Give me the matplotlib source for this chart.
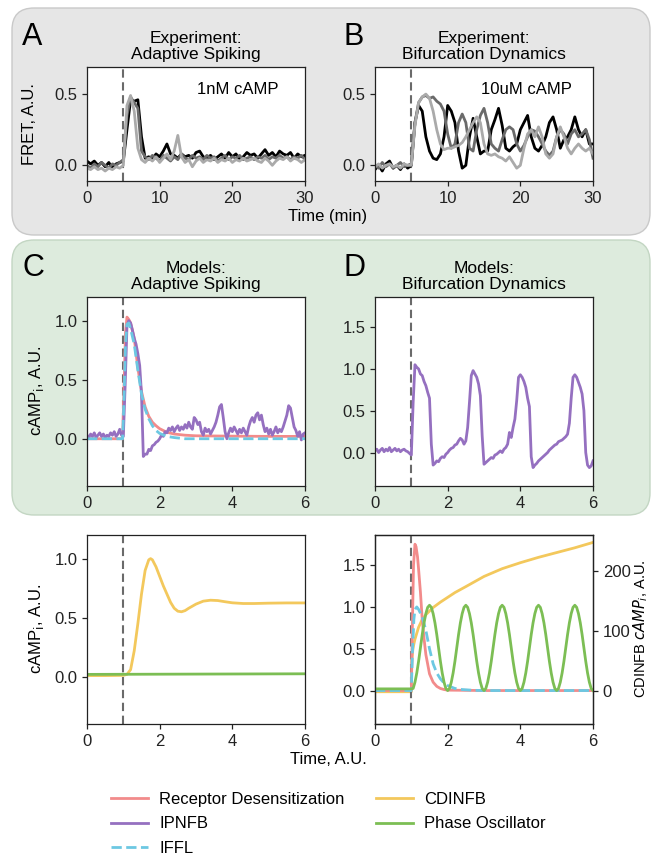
import matplotlib
matplotlib.use('Agg')
import matplotlib.pyplot as plt
import numpy as np
from matplotlib.patches import FancyBboxPatch
from matplotlib.lines import Line2D

plt.rcParams['font.family'] = ['Liberation Sans', 'DejaVu Sans']

# ---------------- data ----------------
# experiments, time in min (0.5 min steps)
t_exp = np.linspace(0, 30, 61)
a_black = [0.03, 0.01, 0.03, 0.0, 0.02, -0.01, 0.02, -0.02, 0.01, 0.02, 0.03, 0.25, 0.46, 0.45, 0.46, 0.2,
           0.05, 0.06, 0.04, 0.08, 0.06, 0.1, 0.15, 0.08, 0.07, 0.05, 0.08, 0.06, 0.07, 0.05, 0.09, 0.1,
           0.06, 0.05, 0.07, 0.04, 0.06, 0.08, 0.05, 0.09, 0.06, 0.08, 0.04, 0.06, 0.09, 0.07, 0.08, 0.05,
           0.08, 0.11, 0.07, 0.09, 0.06, 0.1, 0.08, 0.07, 0.09, 0.05, 0.08, 0.06, 0.07]
a_dark = [0.0, -0.02, 0.01, -0.01, 0.02, 0.0, -0.02, 0.01, 0.0, 0.02, 0.04, 0.35, 0.48, 0.44, 0.4, 0.1,
          0.06, 0.04, 0.07, 0.05, 0.03, 0.07, 0.05, 0.03, 0.06, 0.04, 0.08, 0.05, 0.04, 0.07, 0.05, 0.06,
          0.04, 0.07, 0.05, 0.06, 0.03, 0.05, 0.07, 0.04, 0.06, 0.05, 0.07, 0.04, 0.05, 0.06, 0.04, 0.06,
          0.05, 0.07, 0.04, 0.06, 0.05, 0.07, 0.05, 0.06, 0.04, 0.06, 0.05, 0.07, 0.04]
a_light = [-0.02, -0.03, -0.01, -0.03, -0.02, -0.04, -0.02, -0.03, -0.01, -0.02, 0.0, 0.42, 0.49, 0.38,
           0.12, 0.04, 0.02, 0.05, 0.03, 0.06, 0.02, 0.05, 0.08, 0.04, 0.1, 0.21, 0.06, 0.02, 0.04, -0.01,
           0.03, 0.05, 0.02, 0.04, 0.03, 0.05, 0.02, 0.04, 0.03, 0.05, 0.02, 0.04, 0.03, 0.05, 0.03, 0.04,
           0.05, 0.03, 0.02, 0.05, 0.03, 0.0, 0.03, 0.05, 0.04, 0.06, 0.03, 0.05, 0.04, 0.02, 0.04]
b_black = [-0.03, 0.0, -0.04, 0.01, 0.03, -0.02, 0.0, -0.03, 0.01, -0.02, 0.0, 0.3, 0.42, 0.38, 0.2, 0.1,
           0.05, 0.04, 0.08, 0.2, 0.42, 0.38, 0.3, 0.1, -0.02, 0.0, 0.2, 0.33, 0.2, 0.08, 0.1, 0.1, 0.25,
           0.32, 0.4, 0.28, 0.12, 0.1, 0.13, 0.15, 0.25, 0.3, 0.35, 0.2, 0.12, 0.1, 0.14, 0.2, 0.3, 0.34,
           0.25, 0.12, 0.18, 0.2, 0.25, 0.34, 0.25, 0.2, 0.25, 0.15, 0.15]
b_dark = [0.0, -0.02, 0.02, -0.01, 0.01, -0.02, 0.0, 0.02, -0.01, 0.0, 0.01, 0.3, 0.44, 0.48, 0.49, 0.47,
          0.48, 0.45, 0.43, 0.38, 0.22, 0.12, 0.15, 0.3, 0.36, 0.3, 0.12, 0.1, 0.25, 0.35, 0.4, 0.3, 0.15,
          0.12, 0.1, 0.18, 0.25, 0.27, 0.25, 0.15, 0.1, 0.14, 0.2, 0.25, 0.24, 0.2, 0.15, 0.1, 0.07, 0.1,
          0.2, 0.25, 0.22, 0.15, 0.22, 0.25, 0.2, 0.22, 0.25, 0.18, 0.05]
b_light = [-0.01, 0.01, -0.02, 0.0, 0.01, -0.01, 0.0, -0.02, 0.01, 0.0, 0.0, 0.28, 0.44, 0.48, 0.5, 0.47,
           0.38, 0.25, 0.15, 0.11, 0.12, 0.12, 0.13, 0.14, 0.16, 0.2, 0.25, 0.3, 0.34, 0.3, 0.15, 0.08,
           0.07, 0.08, 0.06, 0.05, 0.03, 0.06, 0.02, -0.02, 0.0, 0.12, 0.22, 0.25, 0.2, 0.27, 0.2, 0.08,
           0.05, 0.08, 0.2, 0.27, 0.2, 0.12, 0.08, 0.12, 0.15, 0.12, 0.1, 0.12, 0.08]

# models, panel C
t_c_rd = [0, 0.5, 0.98, 1.02, 1.06, 1.1, 1.15, 1.2, 1.3, 1.4, 1.5, 1.6, 1.7, 1.8, 1.9, 2.0, 2.2, 2.4,
          2.7, 3.0, 4.0, 5.0, 6.0]
c_rd = [0.0, 0.0, 0.0, 0.45, 0.9, 1.03, 1.01, 0.98, 0.85, 0.6, 0.4, 0.27, 0.19, 0.14, 0.11, 0.085,
        0.055, 0.04, 0.03, 0.025, 0.022, 0.02, 0.02]
t_c_iffl = [0, 0.98, 1.02, 1.06, 1.1, 1.15, 1.2, 1.3, 1.4, 1.5, 1.6, 1.7, 1.8, 1.9, 2.0, 2.2, 2.4, 2.7,
            3.0, 6.0]
c_iffl = [0.0, 0.0, 0.35, 0.8, 0.97, 0.98, 0.93, 0.8, 0.58, 0.38, 0.25, 0.17, 0.11, 0.07, 0.045, 0.02,
          0.01, 0.0, 0.0, 0.0]
t_ipnfb = np.linspace(0, 6, 121)
c_ipnfb = [0.03, 0.01, 0.04, 0.02, 0.05, 0.01, 0.03, 0.05, 0.02, 0.04, 0.01, 0.03, 0.02, 0.05, 0.03,
           0.06, 0.02, 0.04, 0.08, 0.03, 0.02, 0.45, 0.95, 1.0, 0.98, 0.92, 0.85, 0.8, 0.72, 0.62, 0.38,
           -0.15, -0.13, -0.13, -0.09, -0.1, -0.06, -0.05, -0.03, -0.02, 0.0, 0.03, 0.02, 0.06, 0.05,
           0.09, 0.07, 0.1, 0.06, 0.09, 0.11, 0.07, 0.1, 0.08, 0.12, 0.09, 0.14, 0.1, 0.08, 0.18, 0.16,
           0.12, 0.14, 0.06, 0.03, 0.09, 0.06, 0.08, 0.04, 0.07, 0.1, 0.14, 0.2, 0.27, 0.29, 0.18, 0.06,
           0.0, 0.05, 0.09, 0.06, 0.1, 0.07, 0.04, 0.08, 0.05, 0.09, 0.06, 0.03, 0.1, 0.15, 0.18, 0.14,
           0.2, 0.22, 0.16, 0.2, 0.12, 0.06, 0.09, 0.04, 0.08, 0.03, 0.06, 0.1, 0.05, 0.08, 0.06, 0.1,
           0.15, 0.2, 0.28, 0.26, 0.18, 0.1, 0.07, 0.02, 0.06, -0.01, 0.04, 0.05]

# models, panel D
d_ipnfb = [0.02, 0.04, 0.0, 0.03, 0.05, 0.01, 0.04, 0.02, 0.06, 0.01, 0.03, 0.05, 0.02, 0.04, 0.01,
           0.03, 0.04, 0.02, 0.01, -0.01, -0.03, 0.6, 1.05, 1.02, 1.0, 0.94, 0.92, 0.85, 0.8, 0.72, 0.65,
           0.1, -0.15, -0.13, -0.1, -0.11, -0.07, -0.05, -0.06, -0.02, 0.0, 0.03, 0.05, 0.06, 0.09, 0.1,
           0.14, 0.17, 0.15, 0.1, 0.14, 0.3, 0.6, 0.92, 0.98, 0.94, 0.9, 0.82, 0.68, 0.2, -0.14, -0.12,
           -0.1, -0.08, -0.06, -0.07, -0.03, -0.02, 0.0, 0.02, 0.0, 0.04, 0.06, 0.1, 0.24, 0.18, 0.3, 0.4,
           0.62, 0.9, 0.93, 0.9, 0.85, 0.78, 0.65, 0.55, -0.05, -0.18, -0.15, -0.13, -0.1, -0.08, -0.06,
           -0.04, -0.02, 0.0, 0.03, 0.05, 0.07, 0.09, 0.1, 0.13, 0.14, 0.15, 0.17, 0.19, 0.22, 0.35, 0.65,
           0.9, 0.93, 0.9, 0.84, 0.78, 0.7, 0.5, 0.0, -0.15, -0.18, -0.16, -0.1]

# bottom left: CDINFB and phase oscillator at the low dose
t_bl_cd = [0, 0.5, 1.0, 1.1, 1.2, 1.3, 1.4, 1.5, 1.6, 1.7, 1.75, 1.8, 1.9, 2.0, 2.1, 2.2, 2.3, 2.4,
           2.5, 2.6, 2.7, 2.8, 3.0, 3.2, 3.4, 3.6, 3.8, 4.0, 4.3, 4.6, 5.0, 5.5, 6.0]
bl_cd = [0.01, 0.01, 0.012, 0.02, 0.06, 0.22, 0.45, 0.7, 0.9, 0.99, 1.0, 0.99, 0.93, 0.85, 0.77, 0.7,
         0.63, 0.58, 0.555, 0.55, 0.56, 0.58, 0.615, 0.64, 0.648, 0.645, 0.635, 0.626, 0.62, 0.62,
         0.623, 0.625, 0.625]
t_bl_po = [0, 6.0]
bl_po = [0.02, 0.025]

# bottom right: all models at the high dose
t_br_rd = [0, 0.98, 1.0, 1.03, 1.06, 1.1, 1.13, 1.17, 1.2, 1.25, 1.3, 1.35, 1.4, 1.5, 1.6, 1.7, 1.8,
           1.9, 2.0, 3.0, 4.0, 5.0, 6.0]
br_rd = [0.0, 0.0, 0.0, 0.8, 1.5, 1.75, 1.72, 1.6, 1.45, 1.18, 0.85, 0.62, 0.43, 0.2, 0.1, 0.05,
         0.025, 0.012, 0.005, 0.0, 0.0, 0.0, 0.0]
t_br_iffl = [0, 1.0, 1.03, 1.07, 1.1, 1.15, 1.2, 1.3, 1.4, 1.5, 1.6, 1.7, 1.8, 1.9, 2.0, 2.2, 2.4, 2.7,
             3.0, 6.0]
br_iffl = [0.0, 0.0, 0.45, 0.85, 0.97, 1.0, 0.97, 0.88, 0.72, 0.5, 0.32, 0.21, 0.14, 0.09, 0.06, 0.025,
           0.012, 0.003, 0.0, 0.0]
t_br_po = np.concatenate([[0.0], np.linspace(1.0, 6.0, 101)])
br_po = [0.02,
         0.02, 0.025, 0.1, 0.21, 0.35, 0.51, 0.67, 0.81, 0.92, 0.995, 1.02, 0.995, 0.92, 0.81, 0.67,
         0.51, 0.35, 0.21, 0.1, 0.025,
         0.0, 0.025, 0.1, 0.21, 0.35, 0.51, 0.67, 0.81, 0.92, 0.995, 1.02, 0.995, 0.92, 0.81, 0.67,
         0.51, 0.35, 0.21, 0.1, 0.025,
         0.0, 0.025, 0.1, 0.21, 0.35, 0.51, 0.67, 0.81, 0.92, 0.995, 1.02, 0.995, 0.92, 0.81, 0.67,
         0.51, 0.35, 0.21, 0.1, 0.025,
         0.0, 0.025, 0.1, 0.21, 0.35, 0.51, 0.67, 0.81, 0.92, 0.995, 1.02, 0.995, 0.92, 0.81, 0.67,
         0.51, 0.35, 0.21, 0.1, 0.025,
         0.0, 0.025, 0.1, 0.21, 0.35, 0.51, 0.67, 0.81, 0.92, 0.995, 1.02, 0.995, 0.92, 0.81, 0.67,
         0.51, 0.35, 0.21, 0.1, 0.025,
         0.0]
t_br_cd = [0, 0.99, 1.0, 1.005, 1.01, 1.02, 1.04, 1.07, 1.1, 1.15, 1.2, 1.3, 1.4, 1.6, 1.8, 2.0, 2.2,
           2.5, 3.0, 3.5, 4.0, 4.5, 5.0, 5.5, 6.0]
br_cd = [-2, -2, -2, 25, 40, 55, 68, 78, 86, 96, 106, 119, 127, 139, 148, 156, 164, 174, 191, 204, 214,
         223, 231, 239, 248]

model_names = ['Receptor Desensitization', 'IPNFB', 'IFFL', 'CDINFB', 'Phase Oscillator']
col_rd, col_ip, col_if, col_cd, col_po = '#f28b8b', '#9570c0', '#6cc8e2', '#f3c85c', '#7cbe54'
exp_cols = ['#000000', '#6a6a6a', '#aaaaaa']

# ---------------- figure ----------------
fig = plt.figure(figsize=(6.57, 8.55), dpi=100)

def px(x0, y0, x1, y1):
    # axes rectangle from pixel box (top-left origin)
    return [x0 / 657, 1 - y1 / 855, (x1 - x0) / 657, (y1 - y0) / 855]

# background panels
for (y0, y1, fc, ec) in [(8, 235, '#e6e6e6', '#c9c9c9'), (240, 515, '#ddebdd', '#c3d6c3')]:
    box = FancyBboxPatch((0.12, (855 - y1) / 100), 6.38, (y1 - y0) / 100,
                         boxstyle='round,pad=0,rounding_size=0.22',
                         transform=fig.dpi_scale_trans, fc=fc, ec=ec, lw=1.0, zorder=-10)
    fig.patches.append(box)

tick_fs = 12
title_fs = 12.5
lab_fs = 12

def style(ax):
    for s in ax.spines.values():
        s.set_color('#222222')
        s.set_linewidth(0.9)
    ax.tick_params(direction='out', length=3.5, width=0.9, labelsize=tick_fs, colors='#222222')

def stim(ax, x):
    ax.axvline(x, color='#6a6a6a', ls=(0, (4, 2.2)), lw=1.5, zorder=1)

# A
axA = fig.add_axes(px(87, 67, 305, 181))
for y, c in zip([a_black, a_dark, a_light], exp_cols):
    axA.plot(t_exp, y, color=c, lw=2)
stim(axA, 5)
axA.set_xlim(0, 30)
axA.set_ylim(-0.11, 0.69)
axA.set_xticks([0, 10, 20, 30])
axA.set_yticks([0.0, 0.5])
axA.text(0.505, 0.8, '1nM cAMP', transform=axA.transAxes, fontsize=tick_fs, va='center')
axA.set_title('Experiment:\nAdaptive Spiking', fontsize=title_fs, linespacing=1.05)
style(axA)

# B
axB = fig.add_axes(px(375, 67, 593, 181))
for y, c in zip([b_black, b_dark, b_light], exp_cols):
    axB.plot(t_exp, y, color=c, lw=2)
stim(axB, 5)
axB.set_xlim(0, 30)
axB.set_ylim(-0.11, 0.69)
axB.set_xticks([0, 10, 20, 30])
axB.set_yticks([0.0, 0.5])
axB.text(0.486, 0.8, '10uM cAMP', transform=axB.transAxes, fontsize=tick_fs, va='center')
axB.set_title('Experiment:\nBifurcation Dynamics', fontsize=title_fs, linespacing=1.05)
style(axB)

# C
axC = fig.add_axes(px(87, 297, 305, 486))
axC.plot(t_c_rd, c_rd, color=col_rd, lw=2)
axC.plot(t_ipnfb, c_ipnfb, color=col_ip, lw=2)
axC.plot(t_c_iffl, c_iffl, color=col_if, lw=2, ls='--')
stim(axC, 1)
axC.set_xlim(0, 6)
axC.set_ylim(-0.4, 1.2)
axC.set_xticks([0, 2, 4, 6])
axC.set_yticks([0.0, 0.5, 1.0])
axC.set_title('Models:\nAdaptive Spiking', fontsize=title_fs, linespacing=1.05)
style(axC)

# D
axD = fig.add_axes(px(375, 297, 593, 486))
axD.plot(t_ipnfb, d_ipnfb, color=col_ip, lw=2)
stim(axD, 1)
axD.set_xlim(0, 6)
axD.set_ylim(-0.4, 1.86)
axD.set_xticks([0, 2, 4, 6])
axD.set_yticks([0.0, 0.5, 1.0, 1.5])
axD.set_title('Models:\nBifurcation Dynamics', fontsize=title_fs, linespacing=1.05)
style(axD)

# bottom left
axE = fig.add_axes(px(87, 535, 305, 724))
axE.plot(t_bl_cd, bl_cd, color=col_cd, lw=2)
axE.plot(t_bl_po, bl_po, color=col_po, lw=2)
stim(axE, 1)
axE.set_xlim(0, 6)
axE.set_ylim(-0.4, 1.2)
axE.set_xticks([0, 2, 4, 6])
axE.set_yticks([0.0, 0.5, 1.0])
style(axE)

# bottom right
axF = fig.add_axes(px(375, 535, 593, 724))
axF.plot(t_br_rd, br_rd, color=col_rd, lw=2)
axF.plot(t_br_iffl, br_iffl, color=col_if, lw=2, ls='--')
axF.plot(t_br_po, br_po, color=col_po, lw=2)
stim(axF, 1)
axF.set_xlim(0, 6)
axF.set_ylim(-0.4, 1.86)
axF.set_xticks([0, 2, 4, 6])
axF.set_yticks([0.0, 0.5, 1.0, 1.5])
style(axF)
axF2 = axF.twinx()
axF2.plot(t_br_cd, br_cd, color=col_cd, lw=2)
axF2.set_ylim(-56, 260.4)
axF2.set_yticks([0, 100, 200])
style(axF2)
axF.set_zorder(axF2.get_zorder() + 1)
axF.patch.set_visible(False)

# labels
fig.text(22 / 657, 1 - 45 / 855, 'A', fontsize=22, va='baseline')
fig.text(343 / 657, 1 - 45 / 855, 'B', fontsize=22, va='baseline')
fig.text(22 / 657, 1 - 276 / 855, 'C', fontsize=22, va='baseline')
fig.text(343 / 657, 1 - 276 / 855, 'D', fontsize=22, va='baseline')
fig.text(30 / 657, 1 - 124 / 855, 'FRET, A.U.', rotation=90, ha='center', va='center', fontsize=lab_fs)
fig.text(36 / 657, 1 - 391 / 855, 'cAMP$_\\mathrm{i}$, A.U.', rotation=90, ha='center', va='center', fontsize=lab_fs)
fig.text(37 / 657, 1 - 629 / 855, 'cAMP$_\\mathrm{i}$, A.U.', rotation=90, ha='center', va='center', fontsize=lab_fs)
fig.text(641 / 657, 1 - 629 / 855, 'CDINFB $cAMP_i$, A.U.', rotation=90, ha='center', va='center', fontsize=10.5)
fig.text(328 / 657, 1 - 216 / 855, 'Time (min)', ha='center', va='center', fontsize=lab_fs)
fig.text(328 / 657, 1 - 759 / 855, 'Time, A.U.', ha='center', va='center', fontsize=lab_fs)

handles = [Line2D([], [], color=col_rd, lw=2), Line2D([], [], color=col_ip, lw=2),
           Line2D([], [], color=col_if, lw=2, ls='--'), Line2D([], [], color=col_cd, lw=2),
           Line2D([], [], color=col_po, lw=2)]
fig.legend(handles, model_names, loc='upper center', bbox_to_anchor=(0.5, 1 - 785 / 855), ncol=2,
           frameon=False, fontsize=12, handlelength=2.2, handletextpad=0.66, columnspacing=1.9,
           borderaxespad=0, labelspacing=0.58)

fig.savefig('out.png', dpi=100)
